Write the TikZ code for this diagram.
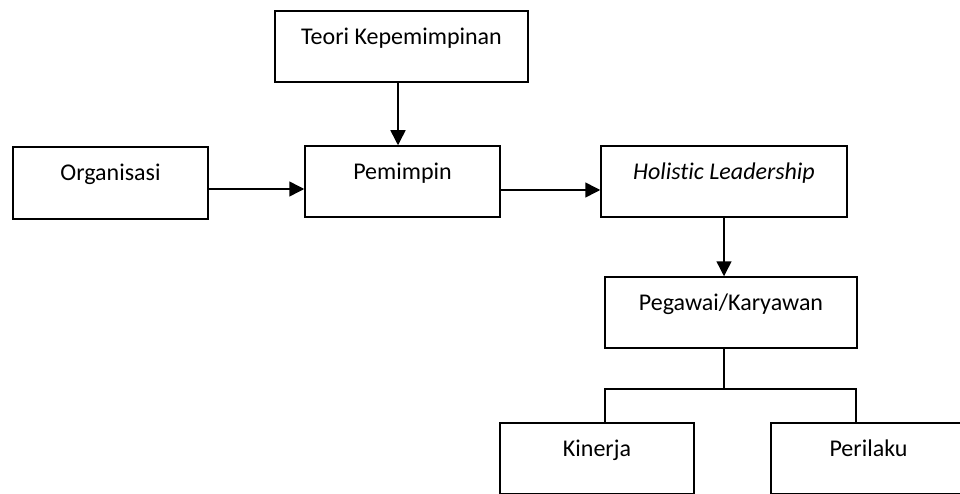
\documentclass[tikz,border=0pt]{standalone}
\usepackage{fontspec}
\setmainfont{Carlito}[Ligatures=CommonOff]
\usetikzlibrary{arrows.meta,calc}
\tikzset{
  box/.style={draw=black, line width=1.5pt, fill=white, inner sep=0pt},
  lbl/.style={inner sep=0pt, anchor=base, font=\fontsize{24}{29}\selectfont, text=black},
  conn/.style={draw=black, line width=1.5pt},
  arr/.style={conn, -{Triangle[length=15pt,width=15pt]}}
}
\begin{document}
\begin{tikzpicture}[x=1pt,y=-1pt]
\useasboundingbox (0,0) rectangle (960,494);
\fill[white] (0,0) rectangle (960,494);
% boxes
\node[box, minimum width=253pt, minimum height=71pt] (teori) at (401.5,46.5) {};
\node[box, minimum width=195pt, minimum height=72pt] (org) at (110.5,183) {};
\node[box, minimum width=195pt, minimum height=71pt] (pem) at (402.5,181.5) {};
\node[box, minimum width=246pt, minimum height=71pt] (hol) at (724,181.5) {};
\node[box, minimum width=252pt, minimum height=71pt] (peg) at (731,312.5) {};
\node[box, minimum width=194pt, minimum height=71pt] (kin) at (597,458.5) {};
\node[box, minimum width=195pt, minimum height=71pt] (per) at (868.5,458.5) {};
% labels
\node[lbl] (teorit) at ($(teori.north)+(0,34)$) {Teori Kepemimpinan};
\node[lbl] (orgt) at ($(org.north)+(0,34)$) {Organisasi};
\node[lbl] (pemt) at ($(pem.north)+(0,34)$) {Pemimpin};
\node[lbl] (holt) at ($(hol.north)+(0,34)$) {\itshape Holistic Leadership};
\node[lbl] (pegt) at ($(peg.north)+(0,34)$) {Pegawai/Karyawan};
\node[lbl] (kint) at ($(kin.north)+(0,34)$) {Kinerja};
\node[lbl] (pert) at ($(per.north)+(0,34)$) {Perilaku};
% connectors
\coordinate (a1) at ($(teori.south)+(-3.5,0)$);
\draw[arr] (a1) -- (a1 |- pem.north);
\coordinate (a2) at ($(org.east)+(0,6)$);
\draw[arr] (a2) -- (a2 -| pem.west);
\coordinate (a3) at ($(pem.east)+(0,8.5)$);
\draw[arr] (a3) -- (a3 -| hol.west);
\draw[arr] (hol.south) -- (hol.south |- peg.north);
\coordinate (j) at (724,389);
\coordinate (jl) at (605,389);
\coordinate (jr) at (856,389);
\draw[conn] (peg.south -| j) -- (j);
\draw[conn] (jl |- kin.north) -- (jl) -- (jr) -- (jr |- per.north);
\end{tikzpicture}
\end{document}
